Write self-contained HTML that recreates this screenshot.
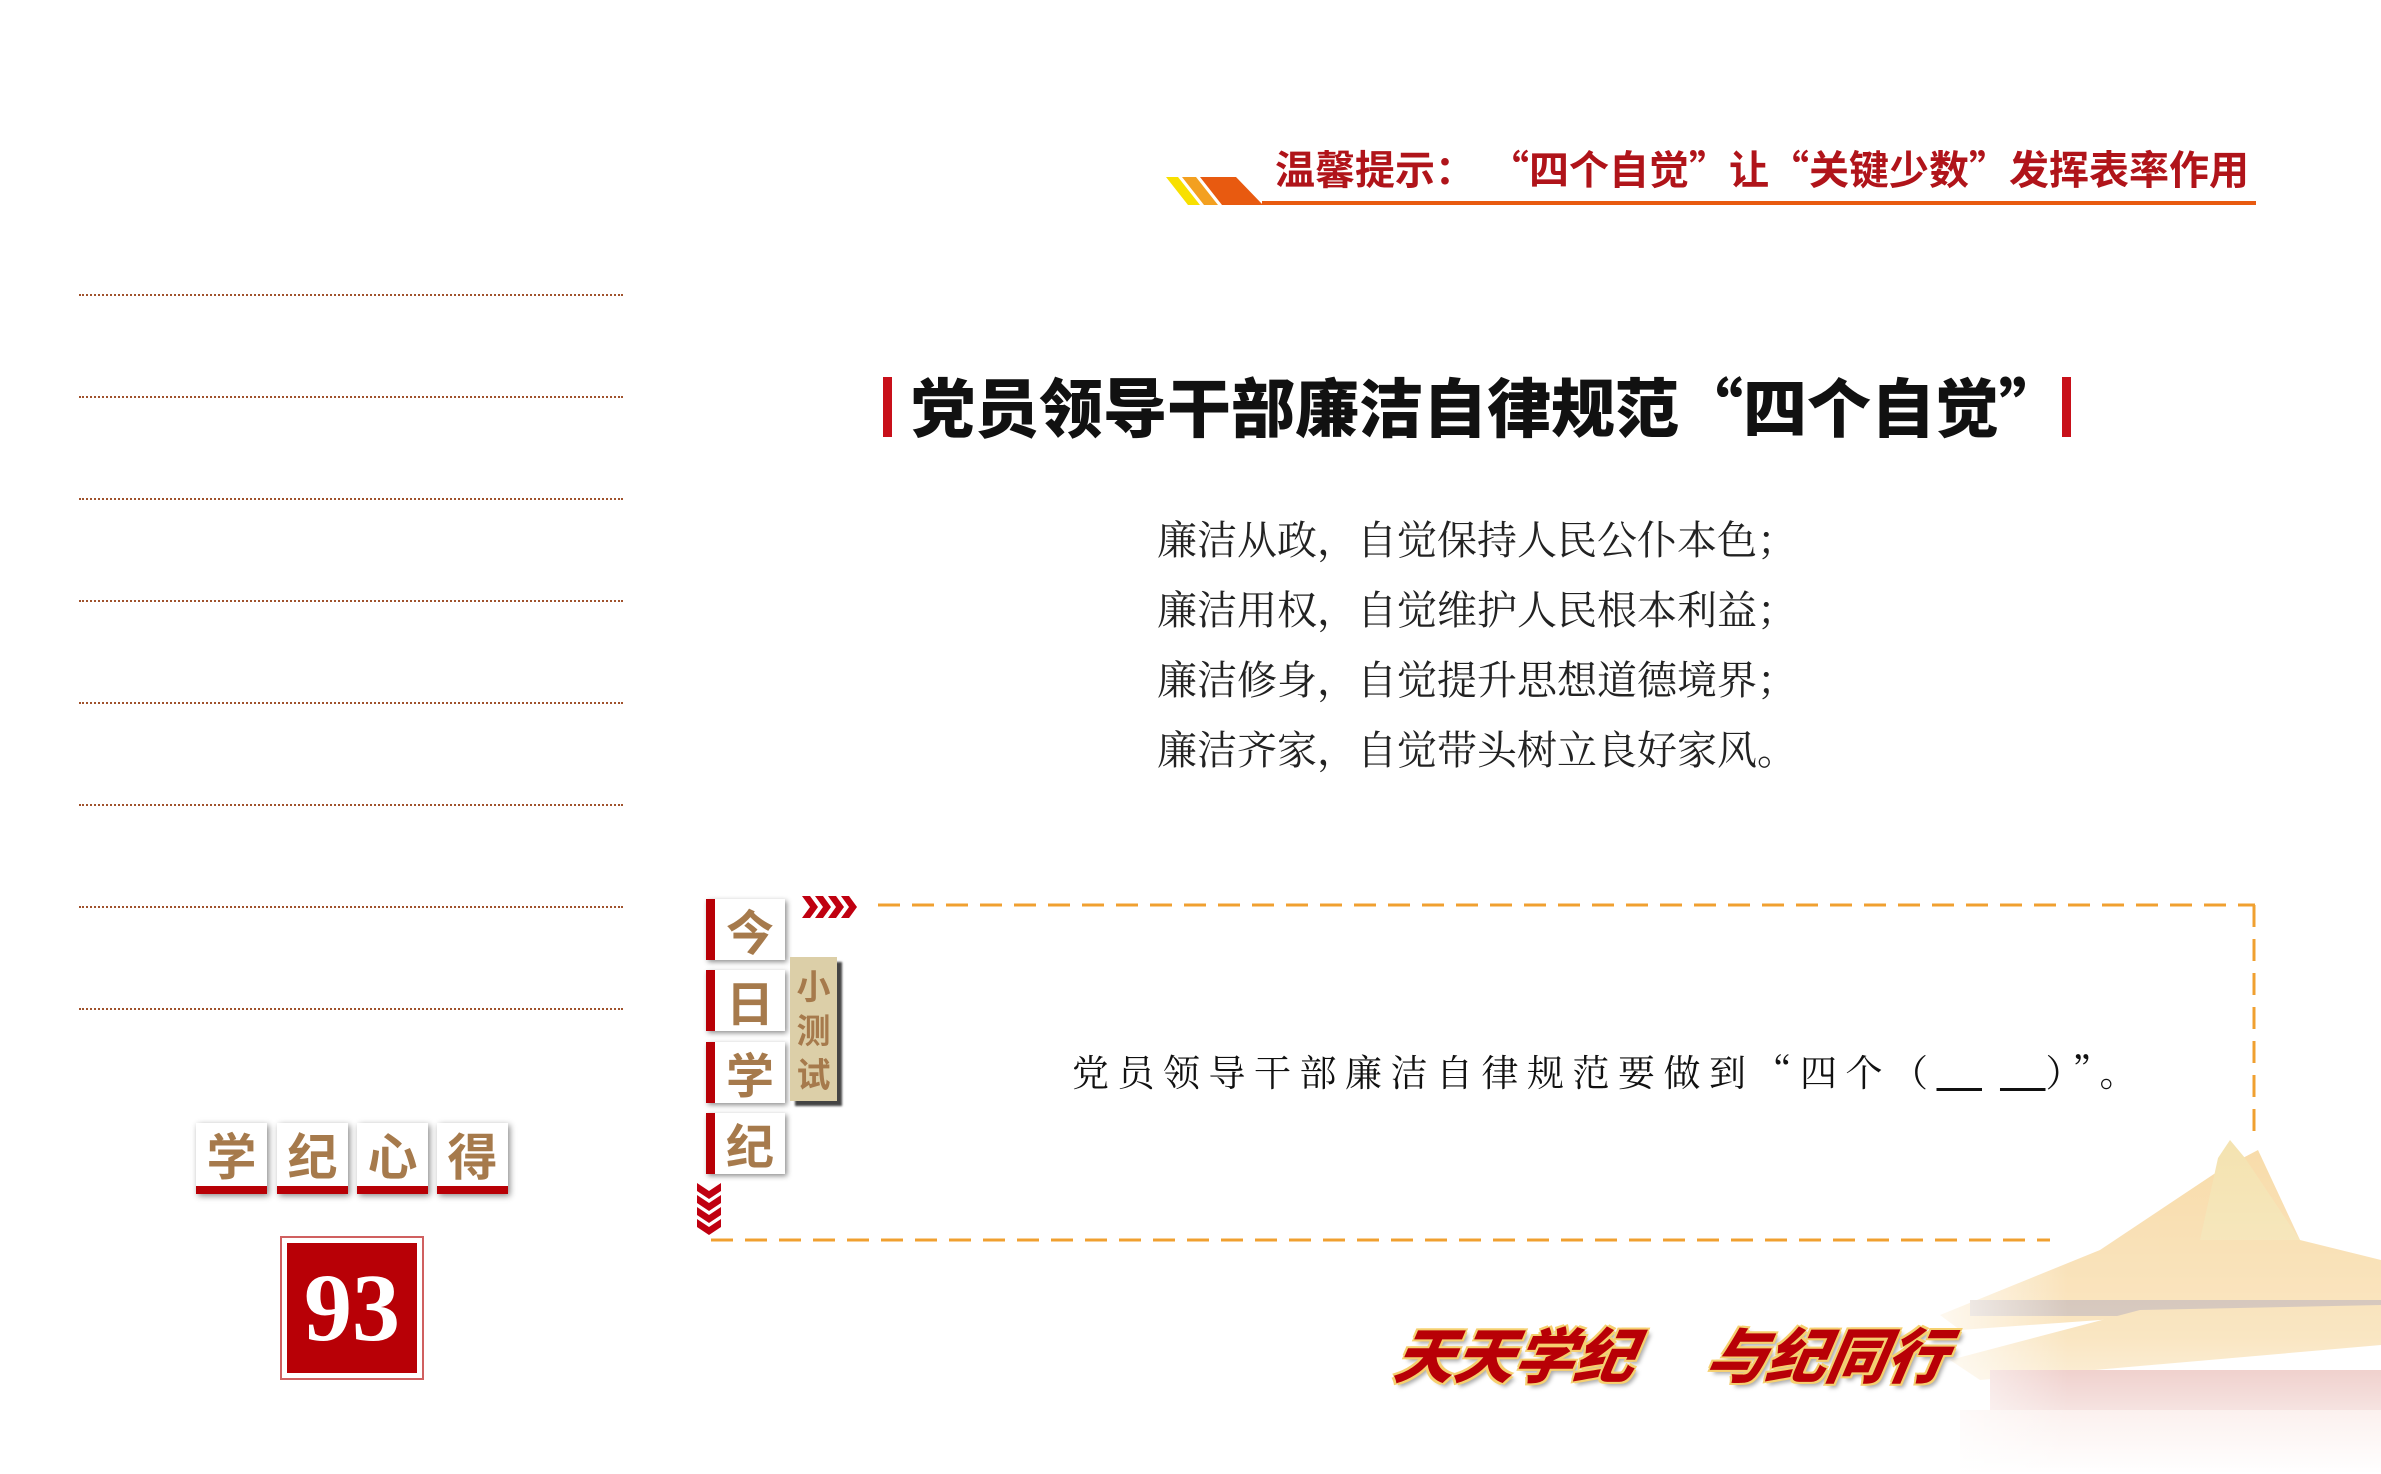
<!DOCTYPE html>
<html><head><meta charset="utf-8"><style>
*{margin:0;padding:0;box-sizing:border-box}
body{width:2381px;height:1474px;background:#fff;position:relative;overflow:hidden;font-family:"Noto Sans CJK SC","Liberation Sans",sans-serif}
.a{position:absolute}
.dot{position:absolute;left:79px;width:544px;border-top:2px dotted #a0522d}
.hdr{left:1275px;top:139px;font-size:40px;font-weight:bold;color:#b0141a;white-space:nowrap;line-height:56px}
.title{left:911px;top:360px;font-size:64px;font-weight:900;color:#111;white-space:nowrap;line-height:90px}
.body{left:1157px;top:503px;font-family:"Noto Serif CJK SC","Liberation Serif",serif;font-size:40px;line-height:70px;color:#222;white-space:nowrap}
.tile{position:absolute;left:706px;width:79px;height:61px;background:#fff;border-left:9px solid #b80006;box-shadow:2px 2px 5px rgba(0,0,0,.45);color:#a67a4c;font-weight:bold;font-size:48px;line-height:61px;text-align:center}
.sq{position:absolute;top:1123px;width:71px;height:71px;background:#fff;border-bottom:8px solid #b80006;box-shadow:2px 2px 6px rgba(0,0,0,.45);color:#a67a4c;font-weight:bold;font-size:50px;line-height:63px;text-align:center}
</style></head><body>
<!-- building -->
<svg class="a" style="left:1900px;top:1130px" width="481" height="344" viewBox="0 0 481 344">
<defs><linearGradient id="f" x1="0" y1="0" x2="0" y2="1"><stop offset="0" stop-color="#fff" stop-opacity="0"/><stop offset="0.6" stop-color="#fff" stop-opacity="0.3"/><stop offset="1" stop-color="#fff" stop-opacity="1"/></linearGradient>
<linearGradient id="g" x1="0" y1="0" x2="1" y2="0"><stop offset="0" stop-color="#fff" stop-opacity="1"/><stop offset="0.35" stop-color="#fff" stop-opacity="0"/></linearGradient></defs>
<g opacity="0.45">
<polygon points="40,185 200,120 320,40 358,20 400,110 481,130 481,170 60,200" fill="#f0b040"/>
<polygon points="318,28 330,10 345,28 400,110 300,110" fill="#e8c050"/>
<rect x="70" y="170" width="411" height="16" fill="#8a6040"/>
<polygon points="50,230 240,180 481,175 481,215 80,250" fill="#eeb040"/>
<rect x="90" y="240" width="391" height="50" fill="#c04030"/>
<rect x="60" y="280" width="421" height="64" fill="#e8a090"/>
</g>
<rect width="481" height="344" fill="url(#f)"/>
<rect width="481" height="344" fill="url(#g)"/>
</svg>

<!-- header -->
<svg class="a" style="left:1166px;top:177px" width="100" height="30">
<polygon points="0,0 12,0 34,28 22,28" fill="#f8e000"/>
<polygon points="16,0 30,0 52,28 38,28" fill="#f3a020"/>
<polygon points="34,0 70,0 97,28 56,28" fill="#e85a10"/>
</svg>
<div class="a" style="left:1262px;top:201px;width:994px;height:4px;background:#e85a10"></div>
<div class="a hdr">温馨提示：<span style="margin-left:34px">“四个自觉”让“关键少数”发挥表率作用</span></div>

<!-- dotted lines -->
<div class="dot" style="top:294px"></div><div class="dot" style="top:396px"></div>
<div class="dot" style="top:498px"></div><div class="dot" style="top:600px"></div>
<div class="dot" style="top:702px"></div><div class="dot" style="top:804px"></div>
<div class="dot" style="top:906px"></div><div class="dot" style="top:1008px"></div>

<!-- title -->
<div class="a" style="left:883px;top:377px;width:9px;height:60px;background:#c8101a"></div>
<div class="a" style="left:2062px;top:377px;width:9px;height:60px;background:#c8101a"></div>
<div class="a title">党员领导干部廉洁自律规范“四个自觉”</div>
<div class="a body">廉洁从政，自觉保持人民公仆本色；<br>廉洁用权，自觉维护人民根本利益；<br>廉洁修身，自觉提升思想道德境界；<br>廉洁齐家，自觉带头树立良好家风。</div>

<!-- quiz box -->
<svg class="a" style="left:700px;top:900px" width="1560" height="345">
<g stroke="#f0a030" stroke-width="3" fill="none" stroke-dasharray="22 12">
<line x1="178" y1="5" x2="1555" y2="5"/>
<line x1="1554" y1="5" x2="1554" y2="235"/>
<line x1="11" y1="340" x2="1350" y2="340"/>
</g></svg>
<svg class="a" style="left:802px;top:896px" width="56" height="22">
<g fill="#c00010"><polygon points="0,0 8,0 16,11 8,22 0,22 8,11"/><polygon points="13,0 21,0 29,11 21,22 13,22 21,11"/><polygon points="26,0 34,0 42,11 34,22 26,22 34,11"/><polygon points="39,0 47,0 55,11 47,22 39,22 47,11"/></g>
</svg>
<svg class="a" style="left:697px;top:1183px" width="24" height="52">
<g fill="#c00010"><polygon points="0,0 12,8 24,0 24,8 12,16 0,8"/><polygon points="0,12 12,20 24,12 24,20 12,28 0,20"/><polygon points="0,24 12,32 24,24 24,32 12,40 0,32"/><polygon points="0,36 12,44 24,36 24,44 12,52 0,44"/></g>
</svg>
<div class="tile" style="top:899px">今</div>
<div class="tile" style="top:970px">日</div>
<div class="tile" style="top:1042px">学</div>
<div class="tile" style="top:1113px">纪</div>
<div class="a" style="left:790px;top:957px;width:47px;height:144px;background:#dccfa8;box-shadow:5px 5px 2px #444;color:#a67a4c;font-weight:bold;font-size:34px;line-height:44px;text-align:center;padding-top:6px">小<br>测<br>试</div>
<div class="a" style="left:1072px;top:1044px;font-family:'Noto Serif CJK SC','Liberation Serif',serif;font-size:37px;letter-spacing:8.5px;color:#111;white-space:nowrap;line-height:52px">党员领导干部廉洁自律规范要做到“四个（<span style="text-decoration:underline">　</span> <span style="text-decoration:underline">　</span>）”。</div>

<!-- left bottom -->
<div class="sq" style="left:196px">学</div>
<div class="sq" style="left:277px">纪</div>
<div class="sq" style="left:357px">心</div>
<div class="sq" style="left:437px">得</div>
<div class="a" style="left:280px;top:1236px;width:144px;height:144px;border:2px solid #d06060;padding:5px">
<div style="width:100%;height:100%;background:#b80006;color:#fff;font-family:'Liberation Serif',serif;font-weight:bold;font-size:96px;line-height:130px;text-align:center">93</div></div>

<!-- slogan -->
<div class="a" style="left:1396px;top:1313px;font-size:60px;font-weight:900;font-style:italic;color:#b80006;white-space:nowrap;line-height:80px;transform:skewX(-10deg);text-shadow:2px 2px 0 #f5d070,-2px -2px 0 #f5d070,2px -2px 0 #f5d070,-2px 2px 0 #f5d070,4px 4px 4px rgba(0,0,0,.35)">天天学纪<span style="margin-left:72px">与纪同行</span></div>
</body></html>
